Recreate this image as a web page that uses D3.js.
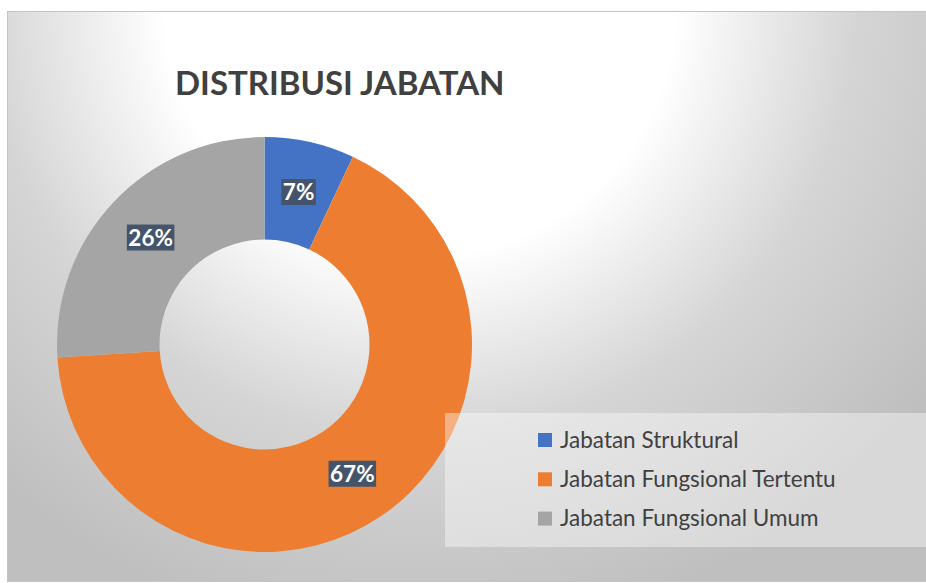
<!DOCTYPE html>
<html>
<head>
<meta charset="utf-8">
<script src="https://d3js.org/d3.v7.min.js"></script>
<style>
    body { margin: 0; background: #ffffff; font-family: Lato, "Open Sans", sans-serif; }
</style>
</head>
<body>
<div id="chart"></div>
<script>
// data
const categories = ["Jabatan Struktural", "Jabatan Fungsional Tertentu", "Jabatan Fungsional Umum"];
const values = [7, 67, 26];
const labels = ["7%", "67%", "26%"];
const colors = ["#4472C4", "#ED7D31", "#A5A5A5"];

const W = 926, H = 583;
const svg = d3.select("#chart").append("svg").attr("width", W).attr("height", H);

// background gradient, light near the top middle, grey to the corners
const defs = svg.append("defs");
const grad = defs.append("radialGradient")
    .attr("id", "bg")
    .attr("gradientUnits", "userSpaceOnUse")
    .attr("cx", 420).attr("cy", 0).attr("r", 640);
grad.append("stop").attr("offset", 0.4).attr("stop-color", "#ffffff");
grad.append("stop").attr("offset", 0.68).attr("stop-color", "#d5d5d5");
grad.append("stop").attr("offset", 1).attr("stop-color", "#bfbfbf");

svg.append("rect")
    .attr("x", 7.5).attr("y", 11.5)
    .attr("width", W).attr("height", 570)
    .attr("fill", "url(#bg)")
    .attr("stroke", "#c4c4c4")
    .attr("stroke-width", 1);

// title
svg.append("text")
    .attr("x", 175).attr("y", 95)
    .attr("font-size", 33)
    .attr("font-weight", "bold")
    .attr("fill", "#404040")
    .text("DISTRIBUSI JABATAN");

// donut
const cx = 264.5, cy = 344.5;
const outerR = 207.5, innerR = 105;

const pie = d3.pie().sort(null).value(d => d);
const arcs = pie(values);
const arc = d3.arc().innerRadius(innerR).outerRadius(outerR);

const g = svg.append("g").attr("transform", `translate(${cx},${cy})`);
g.selectAll(".slice").data(arcs).enter().append("path")
    .attr("class", "slice")
    .attr("fill", (d, i) => colors[i])
    .attr("d", arc);

// data labels with dark boxes
const lab = g.selectAll(".lab").data(arcs).enter().append("g")
    .attr("class", "lab")
    .attr("transform", d => `translate(${arc.centroid(d)})`);
lab.append("rect").attr("fill", "#44546A");
lab.append("text")
    .attr("text-anchor", "middle")
    .attr("dy", "0.36em")
    .attr("font-size", 22.5)
    .attr("font-weight", "bold")
    .attr("fill", "#ffffff")
    .text((d, i) => labels[i]);
lab.each(function () {
    const t = d3.select(this).select("text").node().getBBox();
    d3.select(this).select("rect")
        .attr("x", t.x - 1.5).attr("y", -13)
        .attr("width", t.width + 3).attr("height", 26);
});

// legend
svg.append("rect")
    .attr("x", 445).attr("y", 413)
    .attr("width", W - 445).attr("height", 134)
    .attr("fill", "rgba(255,255,255,0.4)");

const leg = svg.selectAll(".leg").data(categories).enter().append("g")
    .attr("class", "leg")
    .attr("transform", (d, i) => `translate(538,${440 + i * 39.3})`);
leg.append("rect")
    .attr("x", 0).attr("y", -7)
    .attr("width", 14).attr("height", 14)
    .attr("fill", (d, i) => colors[i]);
leg.append("text")
    .attr("x", 22).attr("dy", "0.35em")
    .attr("font-size", 22.5)
    .attr("fill", "#404040")
    .text(d => d);
</script>
</body>
</html>
